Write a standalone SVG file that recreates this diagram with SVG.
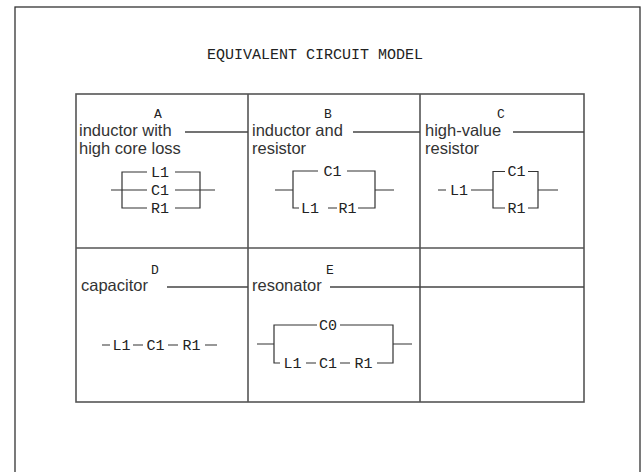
<svg xmlns="http://www.w3.org/2000/svg" width="642" height="472" viewBox="0 0 642 472">
<style>
.mono{font-family:"Liberation Mono","DejaVu Sans Mono",monospace;fill:#222}
.t{font-size:15px}
.lab{font-size:15px;text-anchor:middle}
.hd{font-size:13px;text-anchor:middle}
.sans{font-family:"Liberation Sans",Arial,sans-serif;font-size:16.5px;fill:#333}
.grid{fill:none;stroke:#555;stroke-width:1.6}
.w{stroke:#333;stroke-width:1.2;fill:none}
.lead{stroke:#444;stroke-width:1.5}
</style>
<rect x="0" y="0" width="642" height="472" fill="#fff"/>
<rect x="15" y="7" width="625" height="480" fill="none" stroke="#333" stroke-width="1.3"/>
<text class="mono t" x="315" y="59" text-anchor="middle">EQUIVALENT CIRCUIT MODEL</text>
<g id="table">
<rect class="grid" x="76" y="94" width="508" height="308"/>
<line class="grid" x1="248" y1="94" x2="248" y2="402"/>
<line class="grid" x1="420" y1="94" x2="420" y2="402"/>
<line class="grid" x1="76" y1="248" x2="584" y2="248"/>
</g>
<g id="cell-A">
<text class="mono hd" x="158" y="118">A</text>
<text class="sans" x="79" y="136">inductor with</text>
<text class="sans" x="79" y="154">high core loss</text>
<text class="mono lab" x="160" y="177">L1</text>
<text class="mono lab" x="160" y="195">C1</text>
<text class="mono lab" x="160" y="213">R1</text>
</g>
<g id="cell-B">
<text class="mono hd" x="328" y="118">B</text>
<text class="sans" x="252" y="136">inductor and</text>
<text class="sans" x="252" y="154">resistor</text>
<text class="mono lab" x="332.5" y="176">C1</text>
<text class="mono lab" x="310" y="213">L1</text>
<text class="mono lab" x="347.5" y="213">R1</text>
</g>
<g id="cell-C">
<text class="mono hd" x="501" y="118">C</text>
<text class="sans" x="425" y="136">high-value</text>
<text class="sans" x="425" y="154">resistor</text>
<text class="mono lab" x="459" y="195">L1</text>
<text class="mono lab" x="516.5" y="176">C1</text>
<text class="mono lab" x="516.5" y="213">R1</text>
</g>
<g id="cell-D">
<text class="mono hd" x="155" y="274">D</text>
<text class="sans" x="81" y="291">capacitor</text>
<text class="mono lab" x="121.5" y="350">L1</text>
<text class="mono lab" x="155.5" y="350">C1</text>
<text class="mono lab" x="191.5" y="350">R1</text>
</g>
<g id="cell-E">
<text class="mono hd" x="330" y="274">E</text>
<text class="sans" x="252" y="291">resonator</text>
<text class="mono lab" x="328" y="330">C0</text>
<text class="mono lab" x="292.5" y="368">L1</text>
<text class="mono lab" x="328" y="368">C1</text>
<text class="mono lab" x="363.5" y="368">R1</text>
</g>
<g id="cell-F"></g>
<g id="connectors">
<line class="lead" x1="185" y1="132" x2="248" y2="132"/>
<line class="lead" x1="353" y1="132" x2="420" y2="132"/>
<line class="lead" x1="513" y1="132" x2="584" y2="132"/>
<line class="lead" x1="167" y1="287" x2="248" y2="287"/>
<line class="lead" x1="330" y1="287" x2="584" y2="287"/>
<path class="w" d="M147 172H122V208H147M175 172H200V208H175M111 190H147M175 190H215"/>
<path class="w" d="M318 171H293V208H299M347 171H375V208H358M275 190H293M375 190H394M328 208H337"/>
<path class="w" d="M438 190H446M471 190H493M505 171.5H493V208H505M528 171.5H538V208H528M538 190H558"/>
<path class="w" d="M102 345H110M133 345H143M168 345H178M205 345H217"/>
<path class="w" d="M317 325H274V363H280M340 325H393V363H377M257 344H274M393 344H412M306 363H316M340 363H350"/>
</g>
</svg>
